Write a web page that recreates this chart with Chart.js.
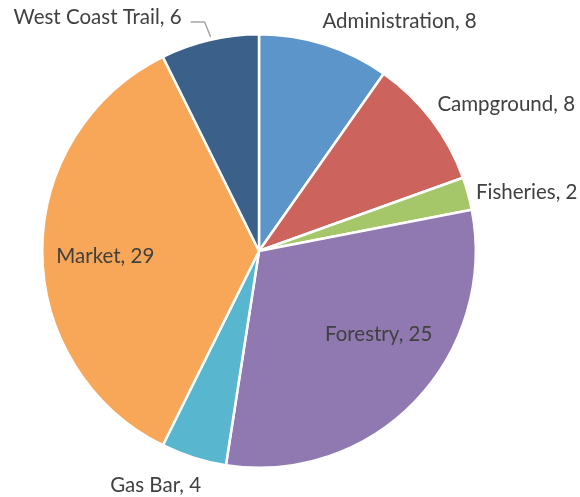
<!DOCTYPE html>
<html>
<head>
<meta charset="utf-8">
<script src="https://cdn.jsdelivr.net/npm/chart.js@4/dist/chart.umd.min.js"></script>
<style>
html,body{margin:0;padding:0;background:#fff;}
#wrap{width:580px;height:497px;position:relative;}
</style>
</head>
<body>
<div id="wrap"><canvas id="c" width="580" height="497"></canvas></div>
<script>
const categories = ["Administration", "Campground", "Fisheries", "Forestry", "Gas Bar", "Market", "West Coast Trail"];
const values = [8, 8, 2, 25, 4, 29, 6];
const colors = ["#5B95C9", "#CC635C", "#A6C66A", "#9079B0", "#58B7CF", "#F8A657", "#3B6089"];

// label placement rules (relative to each slice's own geometry)
const labelPlacement = [
  {mode: "out", align: "left",   dx: -2, dy: -23},
  {mode: "out", align: "left",   dx: 6,  dy: -15},
  {mode: "out", align: "left",   dx: 8,  dy: -1},
  {mode: "in",  k: 0.67, dx: 15, dy: -17},
  {mode: "out", align: "center", dx: -38, dy: 28},
  {mode: "in",  k: 0.64, dx: -15, dy: 5},
  {mode: "out", align: "right",  dx: -28, dy: -23, leader: true}
];

const labelPlugin = {
  id: "sliceLabels",
  afterDatasetsDraw(chart) {
    const ctx = chart.ctx;
    const meta = chart.getDatasetMeta(0);
    ctx.save();
    ctx.font = '20.5px Lato, "Open Sans", sans-serif';
    ctx.fillStyle = "#404040";
    ctx.textBaseline = "middle";
    meta.data.forEach((arc, i) => {
      const p = arc.getProps(["x", "y", "startAngle", "endAngle", "outerRadius"], true);
      const mid = (p.startAngle + p.endAngle) / 2;
      const text = categories[i] + ", " + values[i];
      const pl = labelPlacement[i];
      let x, y;
      if (pl.mode === "in") {
        x = p.x + Math.cos(mid) * p.outerRadius * pl.k + pl.dx;
        y = p.y + Math.sin(mid) * p.outerRadius * pl.k + pl.dy;
        ctx.textAlign = "center";
      } else {
        const ex = p.x + Math.cos(mid) * p.outerRadius;
        const ey = p.y + Math.sin(mid) * p.outerRadius;
        x = ex + pl.dx; y = ey + pl.dy;
        ctx.textAlign = pl.align;
        if (pl.leader) {
          ctx.save();
          ctx.strokeStyle = "#A6A6A6";
          ctx.lineWidth = 1.5;
          ctx.beginPath();
          ctx.moveTo(ex + 1, ey - 3);
          ctx.lineTo(ex - 5, ey - 18);
          ctx.lineTo(ex - 19, ey - 18);
          ctx.stroke();
          ctx.restore();
        }
      }
      ctx.fillText(text, x, y);
    });
    ctx.restore();
  }
};

new Chart(document.getElementById("c"), {
  type: "pie",
  data: {
    labels: categories,
    datasets: [{
      data: values,
      backgroundColor: colors,
      borderColor: "#ffffff",
      borderWidth: 2.5
    }]
  },
  options: {
    responsive: false,
    animation: false,
    layout: {padding: {left: 0, right: 62, top: 33, bottom: 28}},
    plugins: {legend: {display: false}, tooltip: {enabled: false}}
  },
  plugins: [labelPlugin]
});
</script>
</body>
</html>
